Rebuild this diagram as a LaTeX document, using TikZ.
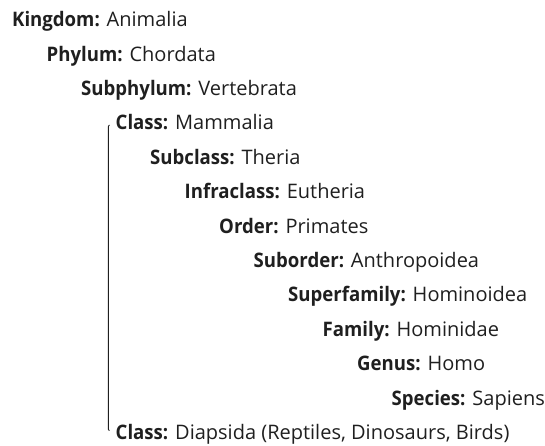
\documentclass[tikz,border=0pt]{standalone}
\usepackage{fontspec}
\setmainfont{Open Sans}[BoldFeatures={FakeStretch=0.93}]

\begin{document}
\begin{tikzpicture}[
        x=1pt, y=-1pt,
        rank/.style={anchor=base west, inner sep=0pt, text=black!88, font=\fontsize{20}{22}\selectfont},
        bracket/.style={draw=black!88, line width=0.9pt, rounded corners=0.8pt}
    ]
    \useasboundingbox (0,0) rectangle (545,446);

    \node[rank] (kingdom) at (12,26.7) {\textbf{Kingdom:} Animalia};
    \node[rank] (phylum) at (46.5,61.1) {\textbf{Phylum:} Chordata};
    \node[rank] (subphylum) at (81,95.5) {\textbf{Subphylum:} Vertebrata};
    \node[rank] (mammalia) at (115.5,129.9) {\textbf{Class:} Mammalia};
    \node[rank] (subclass) at (150,164.3) {\textbf{Subclass:} Theria};
    \node[rank] (infraclass) at (184.5,198.7) {\textbf{Infraclass:} Eutheria};
    \node[rank] (order) at (219,233.1) {\textbf{Order:} Primates};
    \node[rank] (suborder) at (253.5,267.5) {\textbf{Suborder:} Anthropoidea};
    \node[rank] (superfamily) at (288,301.9) {\textbf{Superfamily:} Hominoidea};
    \node[rank] (family) at (322.5,336.3) {\textbf{Family:} Hominidae};
    \node[rank] (genus) at (357,370.7) {\textbf{Genus:} Homo};
    \node[rank] (species) at (391.5,405.1) {\textbf{Species:} Sapiens};
    \node[rank] (diapsida) at (115.5,439.5) {\textbf{Class:} Diapsida (Reptiles, Dinosaurs, Birds)};

    % bracket joining the two classes
    \draw[bracket] ([xshift=-6pt,yshift=4.8pt]mammalia.base west) -- ([xshift=-7.2pt,yshift=4pt]mammalia.base west)
        -- ([xshift=-7.2pt,yshift=9.5pt]diapsida.base west) -- ([xshift=-6pt,yshift=9pt]diapsida.base west);
\end{tikzpicture}
\end{document}
